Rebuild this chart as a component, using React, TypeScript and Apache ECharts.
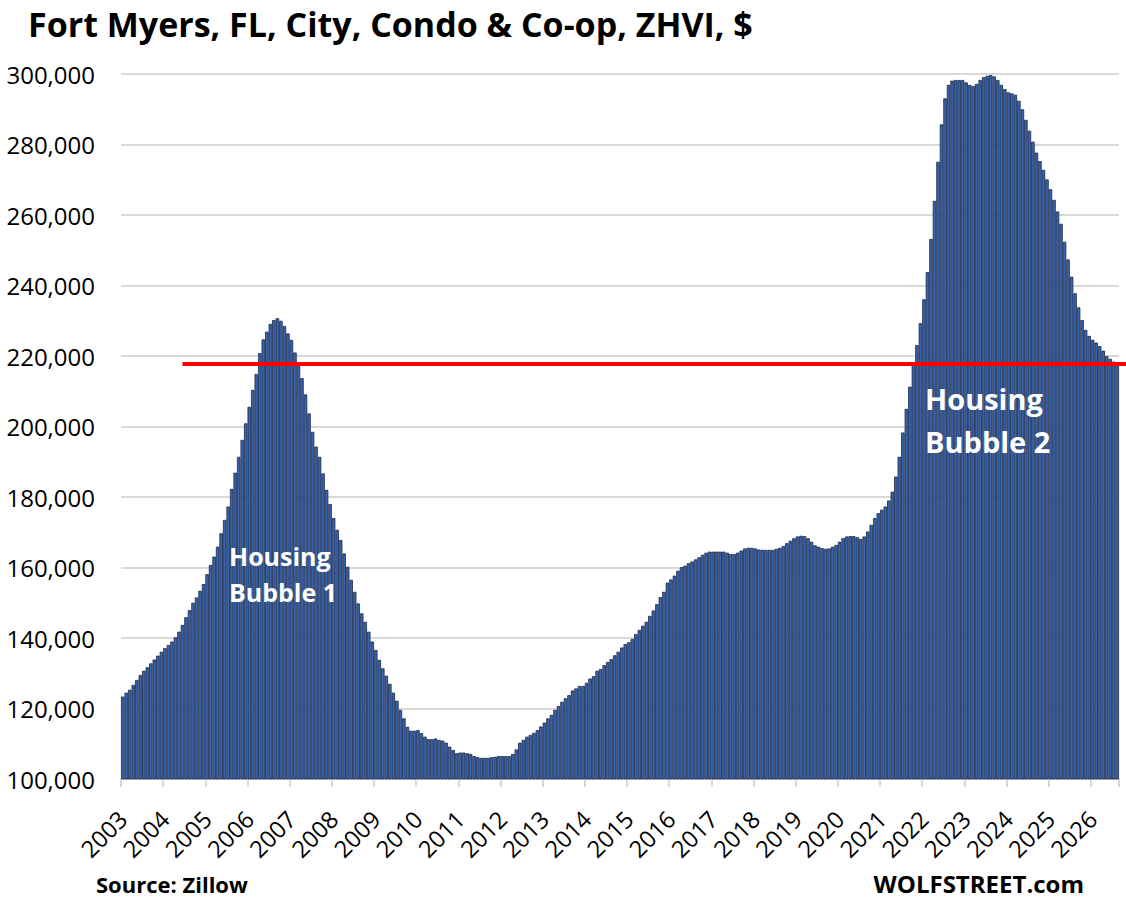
import React, { useEffect, useRef } from "react";
import * as echarts from "echarts";

const TITLE = "Fort Myers, FL, City, Condo & Co-op, ZHVI, $";
const SOURCE = "Source: Zillow";
const BRAND = "WOLFSTREET.com";
const BUBBLE1 = "Housing\nBubble 1";
const BUBBLE2 = "Housing\nBubble 2";

const Y_MIN = 100000;
const Y_MAX = 300000;
const Y_STEP = 20000;
const RED_LEVEL = 217700;
const RED_START = "2004-06";

const YEARS = [
  2003, 2004, 2005, 2006, 2007, 2008, 2009, 2010, 2011, 2012, 2013, 2014,
  2015, 2016, 2017, 2018, 2019, 2020, 2021, 2022, 2023, 2024, 2025, 2026,
];

const v2003 = [123400, 124500, 125300, 126700, 128100, 129500, 130700, 131700, 132800, 133900, 135000, 136100];
const v2004 = [137100, 138000, 139000, 140200, 141800, 143700, 145900, 147900, 150000, 151500, 153400, 155300];
const v2005 = [158100, 160700, 163100, 165900, 169700, 173500, 177300, 182300, 186900, 191400, 196200, 200900];
const v2006 = [205600, 210400, 214900, 220800, 224700, 226900, 229100, 230200, 230700, 230000, 228500, 226400];
const v2007 = [224600, 221000, 218100, 213700, 209100, 203700, 198500, 194300, 191400, 186700, 182000, 178000];
const v2008 = [174000, 170700, 167800, 164000, 160200, 156500, 153100, 149800, 147000, 144600, 141800, 139000];
const v2009 = [136600, 133800, 131400, 129300, 127000, 124500, 122200, 119600, 117200, 114800, 113700, 113700];
const v2010 = [113900, 113000, 112000, 111300, 111300, 111500, 111100, 110900, 110300, 109200, 108200, 107300];
const v2011 = [107500, 107500, 107300, 107100, 106500, 106200, 106000, 106000, 106000, 106200, 106300, 106500];
const v2012 = [106500, 106500, 106500, 107100, 108400, 110300, 111100, 112000, 112500, 113100, 113900, 114900];
const v2013 = [116000, 117200, 118200, 119600, 120700, 121900, 122900, 123800, 125100, 125700, 126400, 126400];
const v2014 = [127300, 128500, 129200, 130700, 131200, 132300, 133200, 134000, 135100, 136100, 137300, 138300];
const v2015 = [138800, 139700, 141100, 142300, 143500, 144600, 146300, 147800, 149600, 151600, 153100, 155700];
const v2016 = [156600, 157700, 159100, 160100, 160500, 161200, 161700, 162300, 162900, 163600, 164200, 164500];
const v2017 = [164500, 164500, 164500, 164500, 164200, 163800, 163800, 164200, 164800, 165400, 165600, 165600];
const v2018 = [165400, 165100, 165000, 165000, 165000, 165000, 165300, 165600, 166100, 166900, 167600, 168300];
const v2019 = [168800, 169000, 168900, 168300, 167300, 166300, 165900, 165500, 165300, 165400, 165900, 166400];
const v2020 = [167300, 168300, 168800, 168900, 168900, 168600, 168100, 168800, 170200, 172100, 174000, 175400];
const v2021 = [176400, 177300, 179000, 181500, 185800, 191400, 198300, 205000, 211300, 217500, 223100, 229300];
const v2022 = [236100, 243800, 253200, 264000, 275100, 285700, 293100, 296900, 298100, 298300, 298300, 298300];
const v2023 = [297600, 296900, 296600, 297200, 298300, 299100, 299500, 299700, 299300, 298300, 296900, 295700];
const v2024 = [294800, 294500, 294100, 292400, 290000, 287000, 283900, 280800, 277700, 275300, 272800, 270100];
const v2025 = [267300, 264300, 261000, 257500, 252400, 247400, 242500, 237800, 233800, 230200, 227400, 225700];
const v2026 = [224600, 223800, 222800, 221500, 220000, 219200, 218400, 217800];

const VALUES_BY_YEAR = [
  v2003, v2004, v2005, v2006, v2007, v2008, v2009, v2010, v2011, v2012, v2013, v2014,
  v2015, v2016, v2017, v2018, v2019, v2020, v2021, v2022, v2023, v2024, v2025, v2026,
];

const FONT = "'Open Sans', 'Noto Sans', sans-serif";

export default function App() {
  const ref = useRef<HTMLDivElement>(null);

  useEffect(() => {
    if (!ref.current) return;
    const chart = echarts.init(ref.current, null, { renderer: "svg" });

    const categories: string[] = [];
    const values: number[] = [];
    YEARS.forEach((y, k) => {
      VALUES_BY_YEAR[k].forEach((v, j) => {
        categories.push(`${y}-${String(j + 1).padStart(2, "0")}`);
        values.push(v);
      });
    });

    const isJan = (_i: number, v: string) => String(v).endsWith("-01");

    chart.setOption({
      animation: false,
      grid: { left: 121, right: 7, top: 74, bottom: 122 },
      xAxis: {
        type: "category",
        data: categories,
        boundaryGap: true,
        axisLine: { lineStyle: { color: "#d9d9d9", width: 2 } },
        axisTick: {
          show: true,
          interval: isJan,
          length: 8,
          lineStyle: { color: "#d9d9d9", width: 2 },
        },
        axisLabel: {
          interval: isJan,
          rotate: 45,
          formatter: (v: string) => v.slice(0, 4),
          fontFamily: FONT,
          fontSize: 23.5,
          color: "#000",
          margin: 36,
        },
        splitLine: { show: false },
      },
      yAxis: {
        type: "value",
        min: Y_MIN,
        max: Y_MAX,
        interval: Y_STEP,
        axisLabel: {
          formatter: (v: number) => v.toLocaleString("en-US"),
          fontFamily: FONT,
          fontSize: 24,
          color: "#000",
          margin: 26,
        },
        axisLine: { show: false },
        axisTick: { show: false },
        splitLine: { lineStyle: { color: "#d9d9d9", width: 2 } },
      },
      series: [
        {
          type: "bar",
          data: values,
          barCategoryGap: "0%",
          silent: true,
          itemStyle: { color: "#3563b0", borderColor: "#1f2a44", borderWidth: 0.8 },
        },
      ],
    });

    const yRed = chart.convertToPixel({ yAxisIndex: 0 }, RED_LEVEL) as number;
    const xRed = chart.convertToPixel({ xAxisIndex: 0 }, RED_START) as number;

    chart.setOption({
      graphic: [
        {
          type: "line",
          z: 100,
          shape: { x1: xRed, y1: yRed, x2: chart.getWidth(), y2: yRed },
          style: { stroke: "#ff0000", lineWidth: 4 },
        },
        {
          type: "text",
          x: 28,
          y: 24,
          style: { text: TITLE, font: `bold 34px ${FONT}`, fill: "#000", verticalAlign: "middle" },
        },
        {
          type: "text",
          x: 229,
          y: 538,
          z: 100,
          style: {
            text: BUBBLE1,
            font: `bold 25px ${FONT}`,
            fill: "#fff",
            lineHeight: 36,
            verticalAlign: "top",
          },
        },
        {
          type: "text",
          x: 925,
          y: 377,
          z: 100,
          style: {
            text: BUBBLE2,
            font: `bold 29px ${FONT}`,
            fill: "#fff",
            lineHeight: 43,
            verticalAlign: "top",
          },
        },
        {
          type: "text",
          x: 96,
          y: 884,
          style: { text: SOURCE, font: `bold 22px ${FONT}`, fill: "#000", verticalAlign: "middle" },
        },
        {
          type: "text",
          x: 1084,
          y: 883,
          style: {
            text: BRAND,
            font: `bold 24px ${FONT}`,
            fill: "#000",
            align: "right",
            verticalAlign: "middle",
          },
        },
      ],
    });

    return () => chart.dispose();
  }, []);

  return (
    <div
      ref={ref}
      style={{ position: "fixed", left: 0, top: 0, width: 1126, height: 901, background: "#fff" }}
    />
  );
}
